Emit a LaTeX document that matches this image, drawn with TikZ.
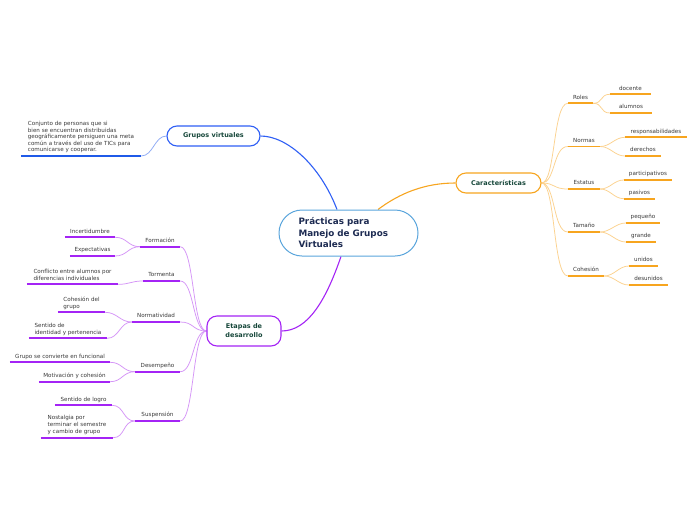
\documentclass[tikz,border=0pt]{standalone}
\usepackage{fontspec}
\setmainfont{DejaVu Sans}
\usetikzlibrary{backgrounds,calc}
\definecolor{rootblue}{HTML}{5AA5DC}
\definecolor{rootnavy}{HTML}{1D2B52}
\definecolor{boxgreen}{HTML}{16473A}
\definecolor{bblue}{HTML}{2F5FF5}
\definecolor{lblue}{HTML}{8EAAF5}
\definecolor{ulblue}{HTML}{1F5AE8}
\definecolor{orng}{HTML}{F7A51F}
\definecolor{lorng}{HTML}{FCD28F}
\definecolor{purp}{HTML}{A424F5}
\definecolor{lpurp}{HTML}{D595F7}
\definecolor{labelgray}{HTML}{3A3A3A}
\tikzset{
  rootbox/.style={draw=rootblue, line width=1pt, fill=white, rounded corners=23pt,
    minimum width=139pt, minimum height=46pt, align=left, inner sep=0pt, text width=100pt,
    font=\fontsize{8.8}{11.5}\selectfont\bfseries, text=rootnavy},
  mainbox/.style={line width=1.1pt, fill=white, rounded corners=10pt, minimum height=20pt,
    inner sep=0pt, align=center, font=\fontsize{6.5}{9}\selectfont\bfseries, text=boxgreen},
  lbl/.style={font=\fontsize{5.6}{6.8}\selectfont, text=labelgray, inner xsep=0pt,
    inner ysep=2.5pt, text depth=1.5pt, anchor=south, align=left},
  mainconn/.style={line width=1.1pt},
  thinconn/.style={line width=0.75pt},
  ul/.style={line width=1.8pt}
}
\begin{document}
\begin{tikzpicture}[x=1pt,y=-1pt]
\useasboundingbox (0,0) rectangle (696,520);

% central and main nodes
\node[rootbox] (root) at (348.5,233) {Prácticas para\\Manejo de Grupos\\Virtuales};
\node[mainbox, draw=bblue, minimum width=93pt] (gv) at (213.5,136) {Grupos virtuales};
\node[mainbox, draw=orng, minimum width=85pt] (car) at (498.5,183) {Características};
\node[mainbox, draw=purp, minimum width=74pt, minimum height=30pt] (et) at (244,331) {Etapas de\\desarrollo};

% Grupos virtuales leaf
\node[lbl, minimum width=120pt, font=\fontsize{5.6}{6.6}\selectfont] (gleaf) at (81,156)
  {Conjunto de personas que si\\bien se encuentran distribuidas\\geográficamente persiguen una meta\\común a través del uso de TICs para\\comunicarse y cooperar.};

% Caracteristicas children
\node[lbl, minimum width=25pt] (roles) at (580.5,103.3) {Roles};
\node[lbl, minimum width=32pt] (normas) at (584,146.5) {Normas};
\node[lbl, minimum width=32pt] (estatus) at (584,189) {Estatus};
\node[lbl, minimum width=32pt] (tamano) at (584,232) {Tamaño};
\node[lbl, minimum width=36pt] (cohesn) at (586,276) {Cohesión};

\node[lbl, minimum width=41pt] (docente) at (630.5,94.3) {docente};
\node[lbl, minimum width=42pt] (alumnos) at (631,113) {alumnos};
\node[lbl, minimum width=62pt] (resp) at (656,137.3) {responsabilidades};
\node[lbl, minimum width=36pt] (derechos) at (643,156) {derechos};
\node[lbl, minimum width=48pt] (partic) at (648,180) {participativos};
\node[lbl, minimum width=31pt] (pasivos) at (639.5,198.7) {pasivos};
\node[lbl, minimum width=34pt] (pequeno) at (643,223) {pequeño};
\node[lbl, minimum width=30pt] (grande) at (641,242) {grande};
\node[lbl, minimum width=29pt] (unidos) at (643.5,266) {unidos};
\node[lbl, minimum width=39pt] (desunidos) at (648.5,285) {desunidos};

% Etapas children
\node[lbl, minimum width=40pt] (form) at (160,246.7) {Formación};
\node[lbl, minimum width=37pt] (torm) at (161.5,281) {Tormenta};
\node[lbl, minimum width=48pt] (norma) at (156,322) {Normatividad};
\node[lbl, minimum width=45pt] (desem) at (157.5,371.7) {Desempeño};
\node[lbl, minimum width=45pt] (susp) at (157.5,421) {Suspensión};

\node[lbl, minimum width=50pt] (incert) at (90,237.3) {Incertidumbre};
\node[lbl, minimum width=45pt] (expect) at (92.5,256) {Expectativas};
\node[lbl, minimum width=91pt] (confl) at (72.5,284.3) {Conflicto entre alumnos por\\diferencias individuales};
\node[lbl, minimum width=47pt] (cohgr) at (81.5,312.3) {Cohesión del\\grupo};
\node[lbl, minimum width=78pt] (sentid) at (68,338.3) {Sentido de\\identidad y pertenencia};
\node[lbl, minimum width=100pt] (funcional) at (60,362.3) {Grupo se convierte en funcional};
\node[lbl, minimum width=71pt] (motiv) at (74.5,381.7) {Motivación y cohesión};
\node[lbl, minimum width=57pt] (logro) at (83.5,405.3) {Sentido de logro};
\node[lbl, minimum width=72pt] (nostal) at (77,437.7) {Nostalgia por\\terminar el semestre\\y cambio de grupo};

% underlines
\draw[ul, ulblue] (gleaf.south west) -- (gleaf.south east);
\foreach \n in {roles,normas,estatus,tamano,docente,alumnos,resp,derechos,partic,pasivos,pequeno,grande,unidos,desunidos}
  \draw[ul, orng] (\n.south west) -- (\n.south east);
\draw[ul, draw=orng] (cohesn.south west) -- (cohesn.south east);
\foreach \n in {form,torm,norma,desem,susp,incert,expect,confl,cohgr,sentid,funcional,motiv,logro,nostal}
  \draw[ul, purp] (\n.south west) -- (\n.south east);

% connectors
\begin{pgfonlayer}{background}
\fill[white] (0,0) rectangle (696,520);
\draw[mainconn, bblue] ([xshift=-11.5pt]root.north) .. controls (320,165) and (287,136) .. (gv.east);
\draw[mainconn, orng] ([xshift=29.5pt]root.north) .. controls (400,193) and (425,183) .. (car.west);
\draw[mainconn, purp] ([xshift=-7.5pt]root.south) .. controls (326,300) and (308,331) .. (et.east);

\draw[thinconn, lblue] (gv.west) .. controls +(-12,0) and +(12,0) .. (gleaf.south east);

\foreach \n in {roles,normas,estatus,tamano,cohesn}
  \draw[thinconn, lorng] (car.east) .. controls +(14,0) and +(-15,0) .. (\n.south west);
\foreach \a/\b in {roles/docente,roles/alumnos,normas/resp,normas/derechos,estatus/partic,estatus/pasivos,tamano/pequeno,tamano/grande,cohesn/unidos,cohesn/desunidos}
  \draw[thinconn, lorng] (\a.south east) .. controls +(10,0) and +(-10,0) .. (\b.south west);

\foreach \n in {form,torm,norma,desem,susp}
  \draw[thinconn, lpurp] (et.west) .. controls +(-14,0) and +(14,0) .. (\n.south east);
\foreach \a/\b in {form/incert,form/expect,torm/confl,norma/cohgr,norma/sentid,desem/funcional,desem/motiv,susp/logro,susp/nostal}
  \draw[thinconn, lpurp] (\a.south west) .. controls +(-12,0) and +(12,0) .. (\b.south east);
\end{pgfonlayer}
\end{tikzpicture}
\end{document}
